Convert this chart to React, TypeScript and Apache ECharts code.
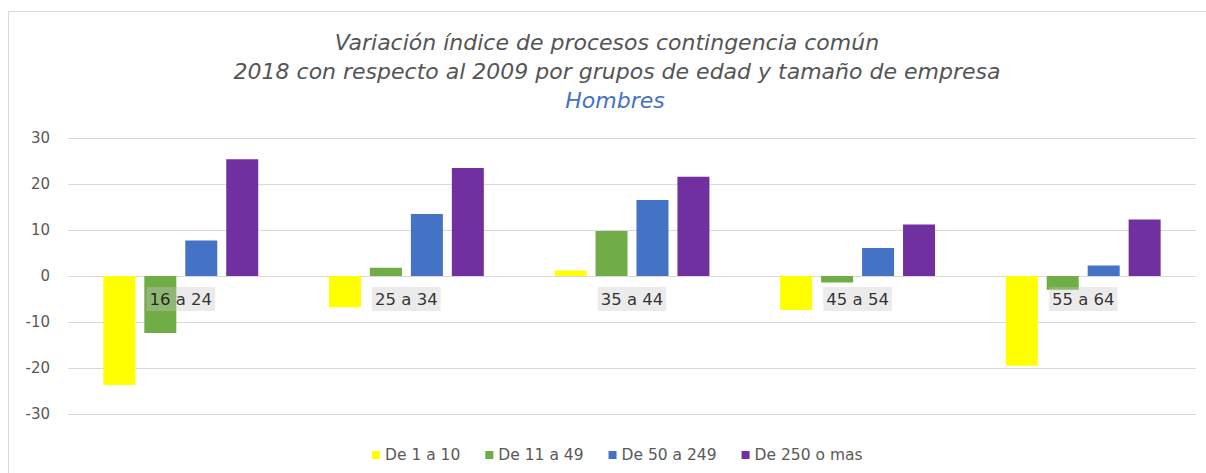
import React, { useEffect, useRef } from "react";
import * as echarts from "echarts";

const categories = ["16 a 24", "25 a 34", "35 a 44", "45 a 54", "55 a 64"];
const seriesNames = ["De 1 a 10", "De 11 a 49", "De 50 a 249", "De 250 o mas"];
const de1a10 = [-23.7, -6.8, 1.2, -7.4, -19.5];
const de11a49 = [-12.4, 1.8, 9.8, -1.4, -3.0];
const de50a249 = [7.7, 13.5, 16.5, 6.1, 2.3];
const de250omas = [25.4, 23.5, 21.6, 11.2, 12.3];
const colors = ["#FFFF00", "#70AD47", "#4472C4", "#7030A0"];
const yTicks = { min: -30, max: 30, interval: 10 };
const titleLines = [
  "Variación índice de procesos contingencia común",
  "2018 con respecto al 2009 por grupos de edad y tamaño de empresa",
  "Hombres",
];

const FONT = "'DejaVu Sans', Verdana, sans-serif";

export default function App() {
  const ref = useRef<HTMLDivElement>(null);
  useEffect(() => {
    if (!ref.current) return;
    const chart = echarts.init(ref.current, undefined, { renderer: "svg" });
    const values = [de1a10, de11a49, de50a249, de250omas];
    const titleStyle = (text: string, fill: string) => ({
      text,
      fill,
      font: `italic 22px ${FONT}`,
      textAlign: "center",
      textVerticalAlign: "middle",
    });
    chart.setOption({
      animation: false,
      backgroundColor: "#ffffff",
      textStyle: { fontFamily: FONT },
      graphic: [
        {
          type: "rect",
          shape: { x: 8.5, y: 11.5, width: 1210, height: 480 },
          style: { fill: "none", stroke: "#d9d9d9", lineWidth: 1 },
          silent: true,
        },
        { type: "text", x: 607, y: 42, style: titleStyle(titleLines[0], "#555555") },
        { type: "text", x: 617, y: 71, style: titleStyle(titleLines[1], "#555555") },
        { type: "text", x: 615, y: 100, style: titleStyle(titleLines[2], "#4472C4") },
      ],
      legend: {
        data: seriesNames,
        left: 367,
        top: 442,
        icon: "rect",
        itemWidth: 8,
        itemHeight: 8,
        itemGap: 25,
        textStyle: { color: "#595959", fontSize: 15.5, fontFamily: FONT },
      },
      grid: { left: 68, right: 10, top: 138, bottom: 59, containLabel: false },
      xAxis: {
        type: "category",
        data: categories,
        axisLine: { show: false },
        axisTick: { show: false },
        axisLabel: { show: false },
      },
      yAxis: {
        type: "value",
        min: yTicks.min,
        max: yTicks.max,
        interval: yTicks.interval,
        axisLine: { show: false },
        axisTick: { show: false },
        axisLabel: { margin: 18, fontSize: 15, color: "#595959", fontFamily: FONT },
        splitLine: { lineStyle: { color: "#d9d9d9", width: 1 } },
      },
      series: [
        ...seriesNames.map((name, i) => ({
          name,
          type: "bar",
          data: values[i],
          barWidth: 32,
          barGap: "28%",
          itemStyle: { color: colors[i] },
        })),
        {
          name: "categoryLabels",
          type: "scatter",
          data: categories.map((c) => [c, 0]),
          symbolSize: 0,
          z: 10,
          silent: true,
          label: {
            show: true,
            position: "bottom",
            distance: 11,
            formatter: (p: any) => p.value[0],
            fontSize: 16.5,
            color: "#000000",
            fontFamily: FONT,
            backgroundColor: "rgba(200,200,200,0.45)",
            padding: [4, 3, 3, 3],
          },
        },
      ],
    });
    return () => chart.dispose();
  }, []);
  return (
    <div
      ref={ref}
      style={{ position: "fixed", left: 0, top: 0, width: 1206, height: 473 }}
    />
  );
}
